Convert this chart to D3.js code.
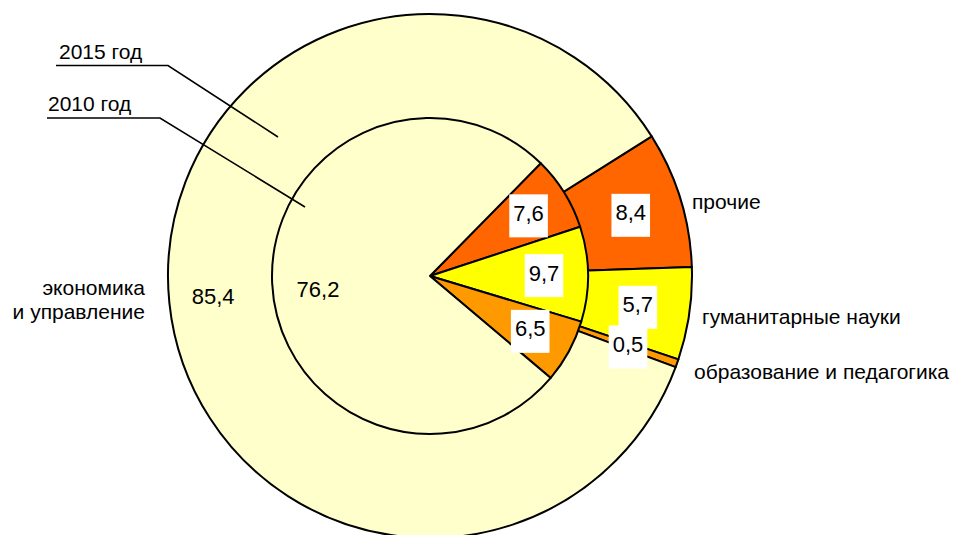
<!DOCTYPE html>
<html><head><meta charset="utf-8">
<script src="https://cdn.jsdelivr.net/npm/d3@7"></script>
<style>
html,body{margin:0;padding:0;background:#fff;}
svg{display:block;font-family:"Liberation Sans",Arial,sans-serif;}
</style></head>
<body>
<svg id="chart" width="957" height="535"></svg>
<script>
// ---- data ----
const categories = ["прочие", "гуманитарные науки", "образование и педагогика", "экономика\nи управление"];
const values2015 = [8.4, 5.7, 0.5, 85.4];
const values2010 = [7.6, 9.7, 6.5, 76.2];
const seriesNames = ["2015 год", "2010 год"];
const colors = ["#FF6600", "#FFFF00", "#FF9900", "#FFFFCC"];

// ---- layout ----
const W = 957, H = 535;
const cx = 430, cy = 276;
const rOuter = 262, rInner = 158;
const deg = Math.PI / 180;
const startOuter = 57.8 * deg, startInner = 44.5 * deg;

const svg = d3.select("#chart");
const g = svg.append("g").attr("transform", `translate(${cx},${cy})`);
const fmt = v => d3.format(".1f")(v).replace(".", ",");

function pieFor(start) {
  return d3.pie().sort(null).value(d => d).startAngle(start).endAngle(start + 2 * Math.PI);
}
const outerArcs = pieFor(startOuter)(values2015);
const innerArcs = pieFor(startInner)(values2010);

const arcOuter = d3.arc().innerRadius(0).outerRadius(rOuter);
const arcInner = d3.arc().innerRadius(0).outerRadius(rInner);

g.selectAll("path.outer").data(outerArcs).join("path")
  .attr("class", "outer").attr("d", arcOuter)
  .attr("fill", (d, i) => colors[i]).attr("stroke", "#000").attr("stroke-width", 2).attr("stroke-linejoin", "round");
g.selectAll("path.inner").data(innerArcs).join("path")
  .attr("class", "inner").attr("d", arcInner)
  .attr("fill", (d, i) => colors[i]).attr("stroke", "#000").attr("stroke-width", 2).attr("stroke-linejoin", "round");

// value labels
const outerLabelR = [210, 210, 210, 218];
const innerLabelR = [116, 114, 114, 113];
const innerLabelShift = [0, 0, 0, -5 * deg];
function addLabel(d, r, shift, boxed, i) {
  const a = (d.startAngle + d.endAngle) / 2 + shift;
  const x = Math.sin(a) * r, y = -Math.cos(a) * r;
  const lg = g.append("g").attr("transform", `translate(${x},${y})`);
  const rect = lg.append("rect");
  const t = lg.append("text").attr("text-anchor", "middle").attr("y", 6)
    .attr("font-size", 22).attr("fill", "#000").text(fmt(d.data));
  const bw = t.node().getComputedTextLength() + 8;
  rect.attr("x", -bw / 2).attr("y", -20.5).attr("width", bw).attr("height", 43)
    .attr("fill", boxed ? "#fff" : "none");
}
outerArcs.forEach((d, i) => addLabel(d, outerLabelR[i], 0, i !== 3, i));
innerArcs.forEach((d, i) => addLabel(d, innerLabelR[i], innerLabelShift[i], i !== 3, i));

// category labels
const catPos = [
  {x: 692, y: 209, anchor: "start"},
  {x: 702, y: 324, anchor: "start"},
  {x: 694, y: 379, anchor: "start"},
  {x: 145, y: 295, anchor: "end"}
];
categories.forEach((c, i) => {
  const t = svg.append("text").attr("x", catPos[i].x).attr("y", catPos[i].y)
    .attr("text-anchor", catPos[i].anchor).attr("font-size", 21).attr("fill", "#000");
  c.split("\n").forEach((line, k) => {
    t.append("tspan").attr("x", catPos[i].x).attr("dy", k === 0 ? 0 : 24).text(line);
  });
});

// series labels with leader lines
const seriesPos = [
  {tx: 59, ty: 59, pts: [[56, 65.5], [168, 65.5], [278, 137]]},
  {tx: 48, ty: 111, pts: [[47, 118], [160, 118], [305, 207]]}
];
seriesNames.forEach((s, i) => {
  const p = seriesPos[i];
  svg.append("text").attr("x", p.tx).attr("y", p.ty).attr("font-size", 21).attr("fill", "#000").text(s);
  svg.append("path").attr("d", d3.line()(p.pts)).attr("fill", "none").attr("stroke", "#000").attr("stroke-width", 1.6);
});
</script>
</body></html>
